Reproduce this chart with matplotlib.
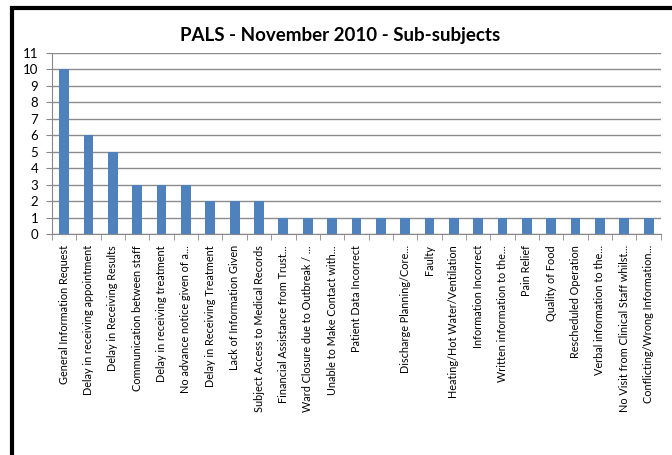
import numpy as np
import matplotlib.pyplot as plt
from matplotlib.patches import Rectangle

categories = [
    'General Information Request',
    'Delay in receiving appointment',
    'Delay in Receiving Results',
    'Communication between staff',
    'Delay in receiving treatment',
    'No advance notice given of a...',
    'Delay in Receiving Treatment',
    'Lack of Information Given',
    'Subject Access to Medical Records',
    'Financial Assistance from Trust...',
    'Ward Closure due to Outbreak / ...',
    'Unable to Make Contact with...',
    'Patient Data Incorrect',
    '',
    'Discharge Planning/Core...',
    'Faulty',
    'Heating/Hot Water/Ventilation',
    'Information Incorrect',
    'Written information to the...',
    'Pain Relief',
    'Quality of Food',
    'Rescheduled Operation',
    'Verbal information to the...',
    'No Visit from Clinical Staff whilst...',
    'Conflicting/Wrong Information...',
]
counts = [10, 6, 5, 3, 3, 3, 2, 2, 2, 1, 1, 1, 1, 1, 1, 1, 1, 1, 1, 1, 1, 1, 1, 1, 1]
yticks = list(range(0, 12))


def main():
    plt.rcParams['font.family'] = ['Lato', 'DejaVu Sans']

    fig = plt.figure(figsize=(6.72, 4.55), dpi=100)
    ax = fig.add_axes([0.0774, 0.4857, 0.906, 0.3978])

    x = np.arange(len(categories))
    ax.bar(x, counts, width=0.4, color='#4F81BD', zorder=3)

    ax.set_xlim(-0.5, len(categories) - 0.5)
    ax.set_ylim(0, 11)
    ax.set_yticks(yticks)
    ax.tick_params(axis='y', labelsize=9.5, length=4, color='#888888', pad=6)
    ax.yaxis.grid(True, color='#8c8c8c', linewidth=1.0, zorder=0)

    ax.set_xticks(x)
    ax.set_xticklabels(categories, rotation=90, fontsize=7.8)
    ax.tick_params(axis='x', length=0, pad=8)
    ax.set_xticks(np.arange(-0.5, len(categories)), minor=True)
    ax.tick_params(axis='x', which='minor', length=4, color='#888888')

    for side in ['top', 'right']:
        ax.spines[side].set_visible(False)
    ax.spines['left'].set_color('#888888')
    ax.spines['bottom'].set_color('#888888')

    fig.text(0.506, 0.922, 'PALS - November 2010 - Sub-subjects',
             ha='center', va='center', fontsize=13.5, fontweight='bold')

    # outer chart frame
    fig.patches.append(Rectangle((12 / 672, -0.1), 1.1, 1.1 - 8 / 455,
                                 transform=fig.transFigure, fill=False,
                                 edgecolor='black', linewidth=3))

    fig.savefig('out.png', dpi=100)


if __name__ == "__main__":
    main()
